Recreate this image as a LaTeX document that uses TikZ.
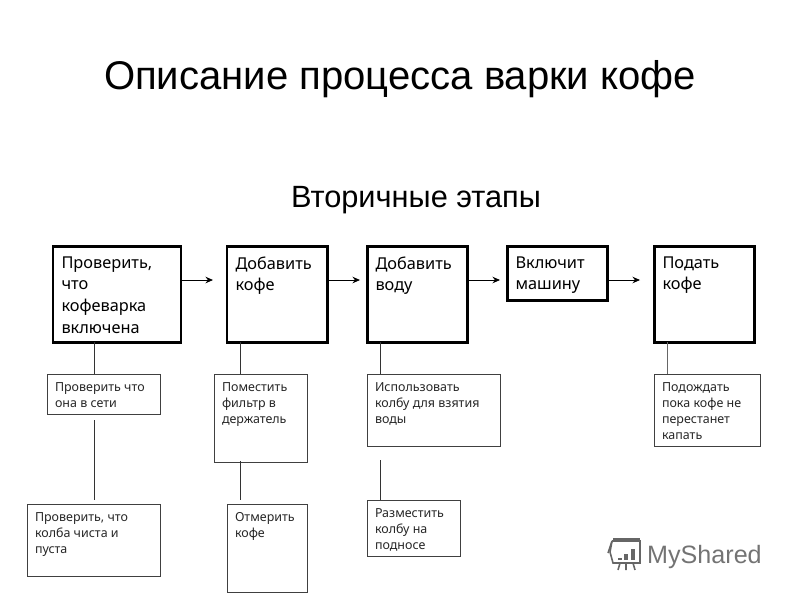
\documentclass[tikz,border=0pt]{standalone}
\usepackage{fontspec}
\setmainfont{Liberation Sans}
\newfontfamily\boxfont{Noto Sans}
\usetikzlibrary{positioning,arrows.meta}
\newlength{\px}
\setlength{\px}{0.02cm}
% text block set at the top left of a box of the given size
\newcommand{\boxtext}[3]{\begin{minipage}[t][\dimexpr #2\px-2\dimexpr\pgfkeysvalueof{/pgf/inner ysep}\relax\relax][t]{\dimexpr #1\px-2\dimexpr\pgfkeysvalueof{/pgf/inner xsep}\relax\relax}\raggedright #3\end{minipage}}
\begin{document}
\begin{tikzpicture}[
      x=0.02cm,y=-0.02cm,
      >={Stealth[length=1.5mm,width=1.3mm]},
      stage/.style={draw=black,line width=1.7pt,anchor=north west,inner xsep=8.5\px,inner ysep=10.5\px,outer sep=0pt,font=\boxfont\fontsize{9.3}{12.3}\selectfont},
      sub/.style={draw=black!75,line width=0.55pt,anchor=north west,inner xsep=8\px,inner ysep=8.5\px,outer sep=0pt,font=\boxfont\fontsize{7.1}{9.1}\selectfont,text=black!85},
      flow/.style={draw=black,line width=0.5pt,->},
      link/.style={draw=black!80,line width=0.55pt}
    ]
    \useasboundingbox (0,0) rectangle (800,600);
    % headings
    \node[font=\fontsize{22.8}{26}\selectfont] (title) at (400,79) {Описание процесса варки кофе};
    \node[font=\fontsize{17.5}{20}\selectfont] (subtitle) at (416,200) {Вторичные этапы};
    % main stages
    \node[stage] (power) at (53,246) {\boxtext{128}{96}{Проверить,\\что\\кофеварка\\включена}};
    \node[stage] (coffee) at (227,246) {\boxtext{100}{96}{Добавить\\кофе}};
    \node[stage] (water) at (367,246) {\boxtext{100}{96}{Добавить\\воду}};
    \node[stage] (start) at (507,246) {\boxtext{100}{54}{Включит\\машину}};
    \node[stage] (serve) at (654,246) {\boxtext{100}{96}{Подать\\кофе}};
    % secondary steps
    \node[sub] (socket) at (47,374) {\boxtext{113}{40}{Проверить что\\она в сети}};
    \node[sub] (flask) at (27,504) {\boxtext{133}{72}{Проверить, что\\колба чиста и\\пуста}};
    \node[sub] (filter) at (214,374) {\boxtext{93}{88}{Поместить\\фильтр в\\держатель}};
    \node[sub] (measure) at (227,504) {\boxtext{80}{88}{Отмерить\\кофе}};
    \node[sub] (fetch) at (367,374) {\boxtext{133}{72}{Использовать\\колбу для взятия\\воды}};
    \node[sub] (tray) at (367,500) {\boxtext{93}{56}{Разместить\\колбу на\\подносе}};
    \node[sub] (wait) at (654,374) {\boxtext{106}{72}{Подождать\\пока кофе не\\перестанет\\капать}};
    % flow between stages, free ends stop short of the next box
    \coordinate (to2) at (213,280);
    \coordinate (to3) at (360,280);
    \coordinate (to4) at (500,280);
    \coordinate (to5) at (640,280);
    \draw[flow] (power.east |- to2) -- (to2);
    \draw[flow] (coffee.east |- to3) -- (to3);
    \draw[flow] (water.east |- to4) -- (to4);
    \draw[flow] (start.east |- to5) -- (to5);
    % vertical links, some with free ends
    \coordinate (xa) at (94,420);
    \coordinate (ya) at (94,500);
    \coordinate (xb) at (240,461);
    \coordinate (yb) at (240,500);
    \coordinate (xc) at (380,460);
    \coordinate (xe) at (667,0);
    \draw[link] (xa |- power.south) -- (xa |- socket.north);
    \draw[link] (xa) -- (ya);
    \draw[link] (xb |- coffee.south) -- (xb |- filter.north);
    \draw[link] (xb) -- (yb);
    \draw[link] (xc |- water.south) -- (xc |- fetch.north);
    \draw[link] (xc) -- (xc |- tray.north);
    \draw[link,draw=black!60] (xe |- serve.south) -- (xe |- wait.north);
    % logo
    \node[font=\fontsize{14.3}{18}\selectfont,text=black!55,anchor=west] (mark) at (641,557) {MyShared};
    \begin{scope}[draw=black!60,line width=0.9pt]
      \draw (612,541) -- (640,541) -- (640,563) -- (613,563) -- (610,552) -- (612,541);
      \draw (613,539) -- (640,539);
      \draw (608,553) -- (612,541);
      \draw (620,563) -- (618,570) (626,563) -- (626,570) (633,563) -- (635,570);
      \draw[line width=2pt] (620,560) -- (620,558) (626,560) -- (626,554) (633,560) -- (633,549);
    \end{scope}
  \end{tikzpicture}
\end{document}
